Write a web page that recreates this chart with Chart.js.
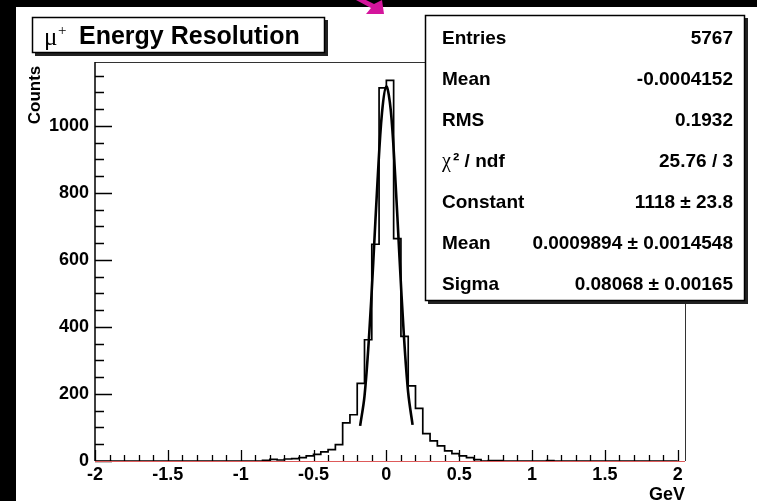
<!DOCTYPE html>
<html lang="en">
<head>
<meta charset="UTF-8">
<title>mu+ Energy Resolution</title>
<script src="https://cdn.jsdelivr.net/npm/chart.js"></script>
<style>
  html, body { margin: 0; padding: 0; background: #000; }
  #chart { display: block; }
</style>
</head>
<body>
<canvas id="chart" width="757" height="501"></canvas>
<script>
// histogram: 80 bins of 0.05 GeV, -2 .. 2
const binEdges = Array.from({ length: 81 }, (_, i) => +(-2 + i * 0.05).toFixed(2));
const counts = [
  0, 0, 0, 0, 0, 0, 0, 0, 0, 0,            // -2.00 .. -1.55
  0, 0, 0, 0, 0, 0, 0, 0, 0, 0,            // -1.50 .. -1.05
  0, 0, 0, 2, 5, 3, 6, 7, 10, 15,          // -1.00 .. -0.55
  20, 27, 34, 49, 114, 138, 232, 362, 647, 1114, // -0.50 .. -0.05
  1136, 664, 372, 224, 157, 82, 60, 45, 30, 22,  //  0.00 .. 0.45
  15, 10, 4, 0, 1, 1, 0, 0, 0, 0,          //  0.50 .. 0.95
  0, 0, 1, 0, 0, 0, 0, 0, 0, 0,            //  1.00 .. 1.45
  0, 0, 0, 0, 0, 0, 0, 0, 0, 0             //  1.50 .. 1.95
];

// gaussian fit curve as drawn
const fitX = [-0.18, -0.15, -0.12, -0.09, -0.06, -0.03, 0, 0.03, 0.06, 0.09, 0.12, 0.15, 0.18];
const fitY = [105, 194, 363, 592, 840, 1039, 1118, 1048, 855, 609, 377, 203, 108];

const xTickLabels = [-2, -1.5, -1, -0.5, 0, 0.5, 1, 1.5, 2];
const yTickLabels = [0, 200, 400, 600, 800, 1000];

const statLabels = ['Entries', 'Mean', 'RMS', '\u03C7\u00B2 / ndf', 'Constant', 'Mean', 'Sigma'];
const statValues = ['5767', '-0.0004152', '0.1932', '25.76 / 3', '1118 \u00B1 23.8',
                    '0.0009894 \u00B1 0.0014548', '0.08068 \u00B1 0.00165'];

const histPoints = binEdges.map((e, i) => ({ x: e, y: i < counts.length ? counts[i] : counts[counts.length - 1] }));
const fitPoints = fitX.map((v, i) => ({ x: v, y: fitY[i] }));

const FONT = '"Liberation Sans", Arial, sans-serif';

function box(ctx, x0, y0, x1, y1) {
  ctx.fillStyle = '#222';
  ctx.fillRect(x0 + 3, y0 + 3, x1 - x0, y1 - y0);
  ctx.fillStyle = '#fff';
  ctx.fillRect(x0, y0, x1 - x0, y1 - y0);
  ctx.strokeStyle = '#000';
  ctx.lineWidth = 1.5;
  ctx.strokeRect(x0 + 0.5, y0 + 0.5, x1 - x0 - 1, y1 - y0 - 1);
}

const rootFrame = {
  id: 'rootFrame',
  beforeDraw(chart) {
    const ctx = chart.ctx;
    ctx.save();
    ctx.fillStyle = '#000';
    ctx.fillRect(0, 0, chart.width, chart.height);
    ctx.fillStyle = '#fff';
    ctx.fillRect(16, 7, chart.width - 16, chart.height - 7);
    ctx.restore();
  },
  afterDraw(chart) {
    const { ctx, chartArea: a } = chart;
    const xs = chart.scales.x, ys = chart.scales.y;
    ctx.save();

    // frame: top and right
    ctx.strokeStyle = '#333';
    ctx.lineWidth = 1;
    ctx.beginPath();
    ctx.moveTo(a.left, a.top + 0.5); ctx.lineTo(a.right, a.top + 0.5);
    ctx.moveTo(a.right + 0.5, a.top); ctx.lineTo(a.right + 0.5, a.bottom);
    ctx.stroke();

    // y axis with inward ticks
    ctx.strokeStyle = '#000';
    ctx.lineWidth = 1.5;
    ctx.beginPath();
    ctx.moveTo(a.left, a.top); ctx.lineTo(a.left, a.bottom);
    for (let v = 0; v <= ys.max; v += 50) {
      const py = Math.round(ys.getPixelForValue(v)) + 0.5;
      const len = yTickLabels.includes(v) ? 17 : 9;
      ctx.moveTo(a.left, py); ctx.lineTo(a.left + len, py);
    }
    ctx.stroke();

    // x axis ticks pointing up
    ctx.lineWidth = 1.3;
    ctx.beginPath();
    for (let k = -20; k <= 20; k++) {
      const v = k / 10;
      const px = Math.round(xs.getPixelForValue(v)) + 0.5;
      const len = k % 5 === 0 ? 11 : 6;
      ctx.moveTo(px, a.bottom); ctx.lineTo(px, a.bottom - len);
    }
    ctx.stroke();

    // zero line / x axis
    ctx.strokeStyle = 'rgb(222,90,90)';
    ctx.lineWidth = 1.2;
    ctx.beginPath();
    ctx.moveTo(a.left, a.bottom + 0.5); ctx.lineTo(a.right, a.bottom + 0.5);
    ctx.stroke();

    // axis titles
    ctx.fillStyle = '#000';
    ctx.font = 'bold 18px ' + FONT;
    ctx.textAlign = 'right';
    ctx.textBaseline = 'alphabetic';
    ctx.fillText('GeV', a.right, 500);

    ctx.save();
    ctx.translate(40, 95);
    ctx.rotate(-Math.PI / 2);
    ctx.textAlign = 'center';
    ctx.font = 'bold 17px ' + FONT;
    ctx.fillText('Counts', 0, 0);
    ctx.restore();

    // title box
    box(ctx, 32, 17, 325, 53);
    ctx.fillStyle = '#000';
    ctx.textAlign = 'left';
    ctx.font = '25px "Liberation Serif", serif';
    ctx.fillText('\u03BC', 44, 45);
    ctx.font = '15px "Liberation Serif", serif';
    ctx.fillText('+', 58, 35);
    ctx.font = 'bold 25px ' + FONT;
    ctx.fillText('Energy Resolution', 79, 44);

    // stats box
    box(ctx, 425, 15, 745, 301);
    ctx.fillStyle = '#000';
    statLabels.forEach((lab, i) => {
      const by = 44 + i * 41;
      ctx.textAlign = 'left';
      if (lab.startsWith('\u03C7')) {
        ctx.font = '20px "Liberation Serif", serif';
        ctx.fillText('\u03C7', 442, by);
        ctx.font = 'bold 19px ' + FONT;
        ctx.fillText('\u00B2 / ndf', 453, by);
      } else {
        ctx.font = 'bold 19px ' + FONT;
        ctx.fillText(lab, 442, by);
      }
      ctx.textAlign = 'right';
      ctx.font = 'bold 19px ' + FONT;
      ctx.fillText(statValues[i], 733, by);
    });

    // magenta arrow at the top
    ctx.fillStyle = '#d4159c';
    ctx.beginPath();
    ctx.moveTo(356, 0); ctx.lineTo(366, 0); ctx.lineTo(374, 4);
    ctx.lineTo(382, 0); ctx.lineTo(384, 14); ctx.lineTo(366, 14);
    ctx.lineTo(371, 8); ctx.closePath();
    ctx.fill();

    ctx.restore();
  }
};

new Chart(document.getElementById('chart'), {
  type: 'line',
  data: {
    datasets: [
      {
        label: 'histogram',
        data: histPoints,
        stepped: true,
        borderColor: '#000',
        borderWidth: 1.7,
        pointRadius: 0,
        fill: false
      },
      {
        label: 'gaus fit',
        data: fitPoints,
        borderColor: '#000',
        borderWidth: 2.6,
        pointRadius: 0,
        tension: 0.35,
        fill: false
      }
    ]
  },
  options: {
    responsive: false,
    animation: false,
    devicePixelRatio: 1,
    layout: { padding: { left: 0, top: 62, right: 72, bottom: 0 } },
    plugins: { legend: { display: false }, tooltip: { enabled: false } },
    scales: {
      x: {
        type: 'linear',
        min: -2,
        max: 2.05,
        grid: { display: false },
        border: { display: false },
        afterBuildTicks: s => { s.ticks = xTickLabels.map(v => ({ value: v })); },
        afterFit: s => { s.height = 40; },
        ticks: {
          color: '#000',
          font: { family: FONT, size: 18, weight: 'bold' },
          padding: -5,
          maxRotation: 0,
          autoSkip: false,
          callback: v => String(v)
        }
      },
      y: {
        min: 0,
        max: 1191,
        grid: { display: false },
        border: { display: false },
        afterBuildTicks: s => { s.ticks = yTickLabels.map(v => ({ value: v })); },
        afterFit: s => { s.width = 95; },
        ticks: {
          color: '#000',
          font: { family: FONT, size: 18, weight: 'bold' },
          padding: -2,
          autoSkip: false,
          callback: v => String(v)
        }
      }
    }
  },
  plugins: [rootFrame]
});
</script>
</body>
</html>
